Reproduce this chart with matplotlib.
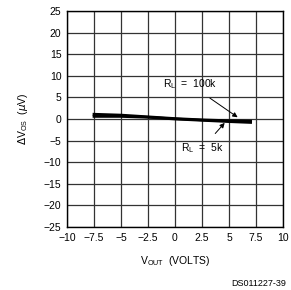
import matplotlib.pyplot as plt

vout = [-7.5, -5.0, -2.5, 0.0, 2.5, 5.0, 7.0]
dvos_100k = [1.1, 0.9, 0.5, 0.1, -0.2, -0.4, -0.5]
dvos_5k = [0.6, 0.6, 0.4, 0.0, -0.3, -0.6, -0.8]

xticks = [-10, -7.5, -5, -2.5, 0, 2.5, 5, 7.5, 10]
yticks = list(range(-25, 26, 5))

plt.rcParams['font.family'] = 'Liberation Sans'

fig = plt.figure(figsize=(2.91, 2.90), dpi=100)
ax = fig.add_axes([67 / 291, 1 - 227 / 290, 216 / 291, 216 / 290])

ax.plot(vout, dvos_100k, color='black', lw=2.0)
ax.plot(vout, dvos_5k, color='black', lw=2.0)

ax.set_xlim(-10, 10)
ax.set_ylim(-25, 25)
ax.set_xticks(xticks)
ax.set_xticklabels([f"{t:g}".replace('-', '\u2212') for t in xticks])
ax.set_yticks(yticks)
ax.set_yticklabels([f"{t}".replace('-', '\u2212') for t in yticks])
ax.tick_params(length=0, labelsize=7.5, pad=4)
ax.grid(True, color='#333333', lw=0.9)
for s in ax.spines.values():
    s.set_linewidth(1.0)

ax.annotate(r'R$_\mathregular{L}$  =  100k', xy=(5.8, 0.4), xytext=(1.4, 8.0),
            fontsize=7.5, ha='center', va='center',
            arrowprops=dict(arrowstyle='-|>', color='black', lw=0.7,
                            mutation_scale=7, shrinkA=5, shrinkB=0))
ax.annotate(r'R$_\mathregular{L}$  =  5k', xy=(4.6, -0.9), xytext=(2.5, -6.8),
            fontsize=7.5, ha='center', va='center',
            arrowprops=dict(arrowstyle='-|>', color='black', lw=0.7,
                            mutation_scale=7, shrinkA=5, shrinkB=0))

ax.set_ylabel(r'$\Delta$V$_\mathregular{OS}$  ($\mu$V)', fontsize=7.5, labelpad=10)
ax.set_xlabel(r'V$_\mathregular{OUT}$  (VOLTS)', fontsize=7.5, labelpad=8)
fig.text(286 / 291, 1 - 283 / 290, 'DS011227-39', fontsize=6.5, ha='right', va='center')

fig.savefig('out.png', dpi=100)
